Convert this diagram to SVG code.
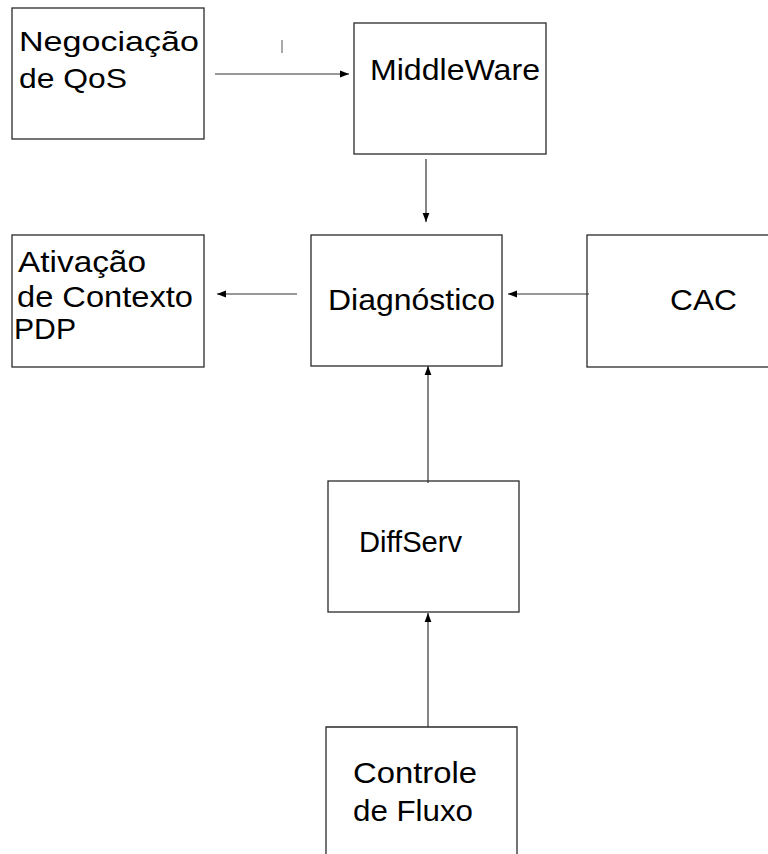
<svg xmlns="http://www.w3.org/2000/svg" width="768" height="854" viewBox="0 0 768 854">
  <style>
    .box { fill: #ffffff; stroke: #2a2a2a; stroke-width: 1.3; }
    .lbl { font-family: "Liberation Sans", Arial, sans-serif; font-size: 30px; fill: #000000; }
    .sm { font-size: 28px; }
    .link { stroke: #333333; stroke-width: 1.2; fill: none; marker-end: url(#head); }
  </style>
  <defs>
    <marker id="head" markerWidth="10" markerHeight="8" refX="9" refY="4" orient="auto" markerUnits="userSpaceOnUse">
      <path d="M0,0.6 L9,4 L0,7.4 Z" fill="#000000"/>
    </marker>
  </defs>
  <rect width="768" height="854" fill="#ffffff"/>

  <g id="negociacao">
    <rect class="box" x="12" y="8" width="192" height="131"/>
    <text class="lbl sm" x="19" y="51" textLength="180" lengthAdjust="spacingAndGlyphs">Negociação</text>
    <text class="lbl sm" x="19" y="88" textLength="108" lengthAdjust="spacingAndGlyphs">de QoS</text>
  </g>

  <g id="middleware">
    <rect class="box" x="354" y="23" width="192" height="131"/>
    <text class="lbl" x="370" y="80" textLength="170" lengthAdjust="spacingAndGlyphs">MiddleWare</text>
  </g>

  <g id="ativacao">
    <rect class="box" x="12" y="235" width="192" height="132"/>
    <text class="lbl" x="18" y="272" textLength="128" lengthAdjust="spacingAndGlyphs">Ativação</text>
    <text class="lbl" x="17" y="307" textLength="176" lengthAdjust="spacingAndGlyphs">de Contexto</text>
    <text class="lbl" x="14" y="339" textLength="62" lengthAdjust="spacingAndGlyphs">PDP</text>
  </g>

  <g id="diagnostico">
    <rect class="box" x="311" y="235" width="191" height="131"/>
    <text class="lbl" x="328" y="310" textLength="167" lengthAdjust="spacingAndGlyphs">Diagnóstico</text>
  </g>

  <g id="cac">
    <rect class="box" x="587" y="235" width="190" height="132"/>
    <text class="lbl" x="670" y="310" textLength="67" lengthAdjust="spacingAndGlyphs">CAC</text>
  </g>

  <g id="diffserv">
    <rect class="box" x="328" y="481" width="191" height="131"/>
    <text class="lbl" x="359" y="552" textLength="103" lengthAdjust="spacingAndGlyphs">DiffServ</text>
  </g>

  <g id="controle">
    <path class="box" d="M326,856 V727 H517 V856"/>
    <text class="lbl" x="353" y="783" textLength="124" lengthAdjust="spacingAndGlyphs">Controle</text>
    <text class="lbl" x="353" y="821" textLength="120" lengthAdjust="spacingAndGlyphs">de Fluxo</text>
  </g>

  <g id="connectors">
    <line class="link" x1="215" y1="74" x2="349" y2="74"/>
    <line class="link" x1="426" y1="159" x2="426" y2="222"/>
    <line class="link" x1="297" y1="294" x2="217" y2="294"/>
    <line class="link" x1="589" y1="294" x2="508" y2="294"/>
    <line class="link" x1="428" y1="483" x2="428" y2="366"/>
    <line class="link" x1="428" y1="727" x2="428" y2="613"/>
    <line x1="282" y1="40" x2="282" y2="53" stroke="#555555" stroke-width="1"/>
  </g>
</svg>
